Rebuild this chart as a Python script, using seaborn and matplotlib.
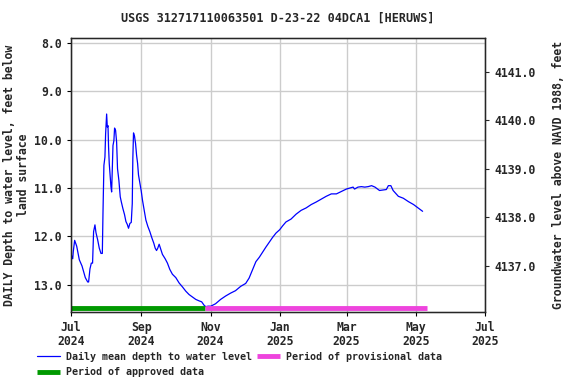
import pandas as pd
import matplotlib
matplotlib.use("Agg")
import matplotlib.pyplot as plt
import seaborn as sns

# days since 2024-07-01
days = [0, 1.5, 2, 3.2, 5, 7.3, 9.7, 12.6, 14.7, 15.5, 16.7, 17.9, 19, 19.9, 21.1, 22,
        23.5, 24.9, 26.4, 27.6, 28.2, 29, 29.9, 30.5, 31.4, 32, 32.6, 33.1, 33.7, 34.6,
        35.2, 35.8, 36.4, 37, 37.8, 38.4, 39.3, 40.2, 41, 42.2, 43.4, 44.3, 45.7, 47.2,
        48.4, 49.6, 50.7, 51.9, 53.1, 54, 54.5, 55.1, 56, 56.9, 57.8, 58.7, 59.5, 60.7,
        61.9, 63, 64.5, 66, 67.7, 69.5, 71.3, 73, 74.2, 75.4, 76.5, 77.7, 79.2, 80.6, 83,
        85, 87.1, 89.4, 92.4, 95.3, 98.2, 101.2, 104.1, 107, 110, 112.9, 115.2, 117.3,
        118.8, 120.8, 123.2, 127.4, 131.9, 136.3, 140.7, 145, 149.6, 154, 157, 160, 163,
        166, 168.8, 171.8, 174.8, 177.7, 180.7, 184, 186.6, 189.5, 194, 198.4, 202.9,
        207.3, 211.8, 216, 220.6, 225, 229.5, 234, 238.3, 242.8, 245.7, 248.7, 250, 253,
        256, 259, 262, 265, 268, 272, 278, 279.8, 282, 284, 288.6, 293, 297.5, 302, 306,
        310]
depth = [12.37, 12.46, 12.31, 12.08, 12.2, 12.48, 12.61, 12.85, 12.94, 12.94, 12.67,
         12.55, 12.55, 11.9, 11.76, 11.92, 12.07, 12.24, 12.35, 12.35, 11.49, 10.53,
         10.36, 9.88, 9.47, 9.74, 9.71, 10.15, 10.49, 10.77, 10.97, 11.08, 10.63, 10.12,
         10.02, 9.76, 9.81, 10.05, 10.6, 10.84, 11.18, 11.28, 11.42, 11.55, 11.69, 11.75,
         11.83, 11.73, 11.71, 11.32, 10.39, 9.86, 9.93, 10.08, 10.32, 10.49, 10.73, 10.9,
         11.06, 11.25, 11.45, 11.66, 11.79, 11.9, 12.03, 12.14, 12.24, 12.29, 12.24,
         12.16, 12.27, 12.37, 12.46, 12.55, 12.68, 12.78, 12.85, 12.96, 13.04, 13.13,
         13.2, 13.25, 13.3, 13.33, 13.35, 13.42, 13.45, 13.44, 13.44, 13.39, 13.3, 13.23,
         13.17, 13.12, 13.03, 12.97, 12.86, 12.69, 12.52, 12.43, 12.33, 12.22, 12.12,
         12.02, 11.93, 11.86, 11.78, 11.7, 11.64, 11.54, 11.46, 11.41, 11.34, 11.29,
         11.23, 11.17, 11.12, 11.12, 11.07, 11.02, 11.0, 10.98, 11.02, 10.98, 10.97,
         10.98, 10.97, 10.95, 10.98, 11.05, 11.03, 10.95, 10.95, 11.05, 11.17, 11.21,
         11.28, 11.34, 11.41, 11.48]

approved_period = ["2024-07-01", "2024-10-27"]
provisional_period = ["2024-10-27", "2025-05-11"]
tick_dates = ["2024-07-01", "2024-09-01", "2024-11-01", "2025-01-01",
              "2025-03-01", "2025-05-01", "2025-07-01"]
tick_labels = ["Jul\n2024", "Sep\n2024", "Nov\n2024", "Jan\n2025",
               "Mar\n2025", "May\n2025", "Jul\n2025"]
land_surface = 4149.6  # depth -> elevation offset

start = pd.Timestamp("2024-07-01")
df = pd.DataFrame({
    "date": start + pd.to_timedelta(days, unit="D"),
    "depth": depth,
})

sns.set_style("white")
plt.rcParams["font.family"] = ["DejaVu Sans Mono"]
plt.rcParams["font.weight"] = "bold"

fig = plt.figure(figsize=(5.76, 3.84), dpi=100)
ax = fig.add_axes([0.1233, 0.1875, 0.7187, 0.7135])

sns.lineplot(data=df, x="date", y="depth", ax=ax, color="#0000ff", linewidth=0.9,
             label="Daily mean depth to water level", legend=False)

bar_y = 13.48
ax.plot(pd.to_datetime(approved_period), [bar_y, bar_y], color="#009900",
        linewidth=3.5, solid_capstyle="butt", label="Period of approved data")
ax.plot(pd.to_datetime(provisional_period), [bar_y, bar_y], color="#ee44dd",
        linewidth=3.5, solid_capstyle="butt", label="Period of provisional data")

ax.set_xlim(pd.Timestamp("2024-07-01"), pd.Timestamp("2025-07-01"))
ax.set_ylim(13.56, 7.9)
ax.set_xticks(pd.to_datetime(tick_dates))
ax.set_xticklabels(tick_labels, linespacing=1.05)
ax.set_yticks([8, 9, 10, 11, 12, 13])
ax.set_yticklabels(["8.0", "9.0", "10.0", "11.0", "12.0", "13.0"])
ax.grid(True, color="#cccccc", linewidth=1)
ax.set_axisbelow(True)
for s in ax.spines.values():
    s.set_color("black")
    s.set_linewidth(1)
ax.tick_params(axis="both", labelsize=8.3, length=3, direction="out", color="black",
               left=True, bottom=True)
ax.set_xlabel("")
ax.set_ylabel("DAILY Depth to water level, feet below\nland surface", fontsize=8.3,
              fontweight="bold", linespacing=1.1, labelpad=3)
ax.set_title("USGS 312717110063501 D-23-22 04DCA1 [HERUWS]", fontsize=8.5,
             fontweight="bold", pad=12)

ax2 = ax.twinx()
ax2.set_ylim(land_surface - 13.56, land_surface - 7.9)
ax2.set_yticks([4137, 4138, 4139, 4140, 4141])
ax2.set_yticklabels(["4137.0", "4138.0", "4139.0", "4140.0", "4141.0"])
ax2.tick_params(axis="y", labelsize=8.3, length=3, direction="out", right=True)
ax2.set_ylabel("Groundwater level above NAVD 1988, feet", fontsize=8.3,
               fontweight="bold", labelpad=12)
ax2.grid(False)

h, l = ax.get_legend_handles_labels()
fig.legend(h, l, loc="upper left",
           bbox_to_anchor=(0.058, 0.095), ncol=2, frameon=False, fontsize=7.2,
           handlelength=2.3, columnspacing=0.5, handletextpad=0.6,
           borderaxespad=0, labelspacing=0.55)

fig.savefig("out.png", dpi=100)
